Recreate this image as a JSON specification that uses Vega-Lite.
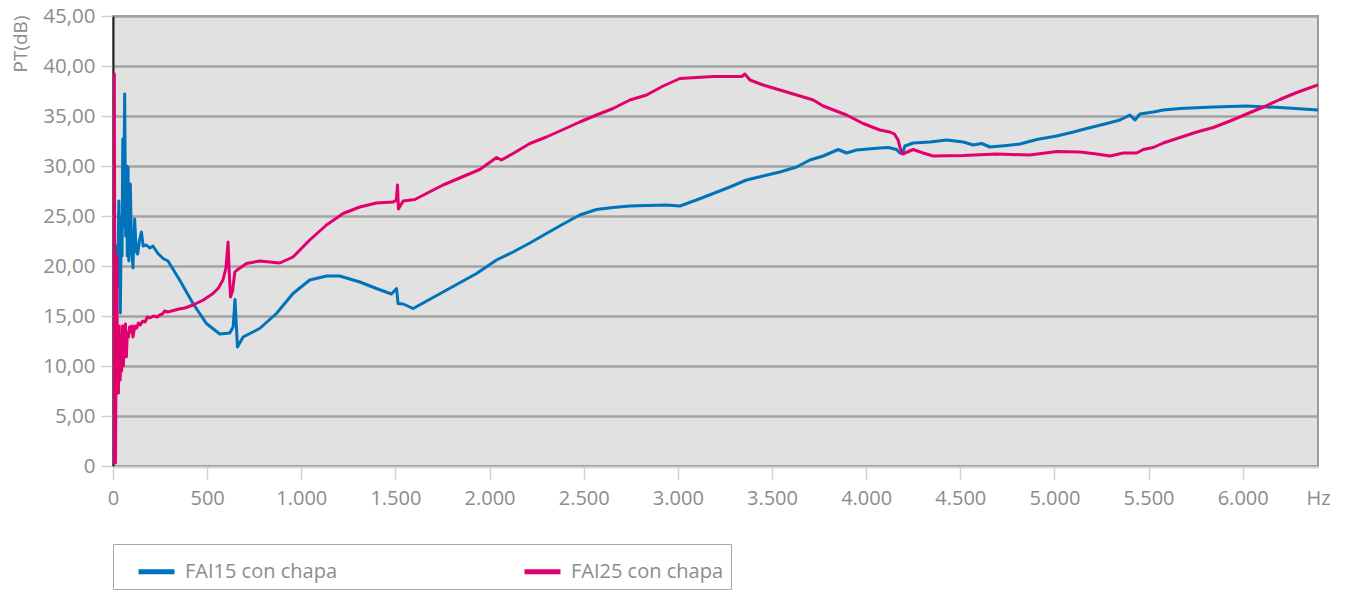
{
  "$schema": "https://vega.github.io/schema/vega-lite/v6.json",
  "width": 1205,
  "height": 450,
  "autosize": {"type": "none"},
  "padding": {"left": 113, "top": 16, "right": 32, "bottom": 125},
  "background": "#ffffff",
  "config": {
    "locale": {"number": {"decimal": ",", "thousands": ".", "grouping": [3], "currency": ["", " €"]}},
    "font": "Open Sans",
    "view": {"fill": "#e1e1e1", "stroke": "#9b9b9b", "strokeWidth": 2},
    "axis": {"labelFont": "Open Sans", "labelFontSize": 20, "labelColor": "#8c8c8c", "titleFont": "Open Sans", "titleColor": "#8c8c8c", "labelOverlap": false, "labelFontWeight": "normal", "titleFontWeight": "normal"},
    "legend": {"labelFont": "Open Sans", "labelFontWeight": "normal"}
  },
  "data": {"values": [
    {"f":0,"v":8.5,"s":"FAI15 con chapa"},
    {"f":3,"v":11.5,"s":"FAI15 con chapa"},
    {"f":8,"v":0.3,"s":"FAI15 con chapa"},
    {"f":14,"v":9,"s":"FAI15 con chapa"},
    {"f":20,"v":22,"s":"FAI15 con chapa"},
    {"f":25,"v":18,"s":"FAI15 con chapa"},
    {"f":31,"v":26.5,"s":"FAI15 con chapa"},
    {"f":35,"v":20,"s":"FAI15 con chapa"},
    {"f":39,"v":15.3,"s":"FAI15 con chapa"},
    {"f":44,"v":25,"s":"FAI15 con chapa"},
    {"f":48,"v":21,"s":"FAI15 con chapa"},
    {"f":52,"v":32.7,"s":"FAI15 con chapa"},
    {"f":56,"v":24,"s":"FAI15 con chapa"},
    {"f":62,"v":37.2,"s":"FAI15 con chapa"},
    {"f":67,"v":23,"s":"FAI15 con chapa"},
    {"f":72,"v":30,"s":"FAI15 con chapa"},
    {"f":76,"v":21,"s":"FAI15 con chapa"},
    {"f":80,"v":29.9,"s":"FAI15 con chapa"},
    {"f":84,"v":20.5,"s":"FAI15 con chapa"},
    {"f":92,"v":28.2,"s":"FAI15 con chapa"},
    {"f":98,"v":22,"s":"FAI15 con chapa"},
    {"f":106,"v":19.8,"s":"FAI15 con chapa"},
    {"f":115,"v":24.7,"s":"FAI15 con chapa"},
    {"f":123,"v":21.5,"s":"FAI15 con chapa"},
    {"f":131,"v":21.2,"s":"FAI15 con chapa"},
    {"f":140,"v":22.5,"s":"FAI15 con chapa"},
    {"f":151,"v":23.4,"s":"FAI15 con chapa"},
    {"f":160,"v":22,"s":"FAI15 con chapa"},
    {"f":177,"v":22.1,"s":"FAI15 con chapa"},
    {"f":195,"v":21.8,"s":"FAI15 con chapa"},
    {"f":212,"v":22,"s":"FAI15 con chapa"},
    {"f":239,"v":21.25,"s":"FAI15 con chapa"},
    {"f":266,"v":20.75,"s":"FAI15 con chapa"},
    {"f":292,"v":20.5,"s":"FAI15 con chapa"},
    {"f":354,"v":18.6,"s":"FAI15 con chapa"},
    {"f":425,"v":16.25,"s":"FAI15 con chapa"},
    {"f":496,"v":14.25,"s":"FAI15 con chapa"},
    {"f":567,"v":13.2,"s":"FAI15 con chapa"},
    {"f":620,"v":13.3,"s":"FAI15 con chapa"},
    {"f":638,"v":13.9,"s":"FAI15 con chapa"},
    {"f":648,"v":16.65,"s":"FAI15 con chapa"},
    {"f":661,"v":11.9,"s":"FAI15 con chapa"},
    {"f":691,"v":12.9,"s":"FAI15 con chapa"},
    {"f":779,"v":13.75,"s":"FAI15 con chapa"},
    {"f":868,"v":15.25,"s":"FAI15 con chapa"},
    {"f":956,"v":17.25,"s":"FAI15 con chapa"},
    {"f":1045,"v":18.6,"s":"FAI15 con chapa"},
    {"f":1134,"v":19.0,"s":"FAI15 con chapa"},
    {"f":1204,"v":19.0,"s":"FAI15 con chapa"},
    {"f":1311,"v":18.4,"s":"FAI15 con chapa"},
    {"f":1399,"v":17.75,"s":"FAI15 con chapa"},
    {"f":1479,"v":17.2,"s":"FAI15 con chapa"},
    {"f":1506,"v":17.75,"s":"FAI15 con chapa"},
    {"f":1514,"v":16.25,"s":"FAI15 con chapa"},
    {"f":1541,"v":16.2,"s":"FAI15 con chapa"},
    {"f":1594,"v":15.75,"s":"FAI15 con chapa"},
    {"f":1753,"v":17.4,"s":"FAI15 con chapa"},
    {"f":1931,"v":19.25,"s":"FAI15 con chapa"},
    {"f":2037,"v":20.6,"s":"FAI15 con chapa"},
    {"f":2125,"v":21.4,"s":"FAI15 con chapa"},
    {"f":2214,"v":22.3,"s":"FAI15 con chapa"},
    {"f":2302,"v":23.25,"s":"FAI15 con chapa"},
    {"f":2391,"v":24.2,"s":"FAI15 con chapa"},
    {"f":2479,"v":25.1,"s":"FAI15 con chapa"},
    {"f":2568,"v":25.65,"s":"FAI15 con chapa"},
    {"f":2656,"v":25.85,"s":"FAI15 con chapa"},
    {"f":2745,"v":26.0,"s":"FAI15 con chapa"},
    {"f":2834,"v":26.05,"s":"FAI15 con chapa"},
    {"f":2940,"v":26.1,"s":"FAI15 con chapa"},
    {"f":3011,"v":26.0,"s":"FAI15 con chapa"},
    {"f":3099,"v":26.6,"s":"FAI15 con chapa"},
    {"f":3188,"v":27.25,"s":"FAI15 con chapa"},
    {"f":3276,"v":27.9,"s":"FAI15 con chapa"},
    {"f":3365,"v":28.6,"s":"FAI15 con chapa"},
    {"f":3453,"v":29.0,"s":"FAI15 con chapa"},
    {"f":3542,"v":29.4,"s":"FAI15 con chapa"},
    {"f":3631,"v":29.9,"s":"FAI15 con chapa"},
    {"f":3701,"v":30.6,"s":"FAI15 con chapa"},
    {"f":3772,"v":31.0,"s":"FAI15 con chapa"},
    {"f":3852,"v":31.65,"s":"FAI15 con chapa"},
    {"f":3896,"v":31.3,"s":"FAI15 con chapa"},
    {"f":3949,"v":31.6,"s":"FAI15 con chapa"},
    {"f":4073,"v":31.8,"s":"FAI15 con chapa"},
    {"f":4117,"v":31.85,"s":"FAI15 con chapa"},
    {"f":4162,"v":31.65,"s":"FAI15 con chapa"},
    {"f":4179,"v":31.3,"s":"FAI15 con chapa"},
    {"f":4194,"v":31.25,"s":"FAI15 con chapa"},
    {"f":4206,"v":32.0,"s":"FAI15 con chapa"},
    {"f":4250,"v":32.3,"s":"FAI15 con chapa"},
    {"f":4339,"v":32.4,"s":"FAI15 con chapa"},
    {"f":4428,"v":32.6,"s":"FAI15 con chapa"},
    {"f":4516,"v":32.4,"s":"FAI15 con chapa"},
    {"f":4569,"v":32.1,"s":"FAI15 con chapa"},
    {"f":4614,"v":32.25,"s":"FAI15 con chapa"},
    {"f":4658,"v":31.9,"s":"FAI15 con chapa"},
    {"f":4746,"v":32.05,"s":"FAI15 con chapa"},
    {"f":4817,"v":32.2,"s":"FAI15 con chapa"},
    {"f":4906,"v":32.65,"s":"FAI15 con chapa"},
    {"f":5012,"v":33.0,"s":"FAI15 con chapa"},
    {"f":5101,"v":33.4,"s":"FAI15 con chapa"},
    {"f":5171,"v":33.75,"s":"FAI15 con chapa"},
    {"f":5278,"v":34.25,"s":"FAI15 con chapa"},
    {"f":5348,"v":34.6,"s":"FAI15 con chapa"},
    {"f":5401,"v":35.1,"s":"FAI15 con chapa"},
    {"f":5428,"v":34.6,"s":"FAI15 con chapa"},
    {"f":5454,"v":35.2,"s":"FAI15 con chapa"},
    {"f":5525,"v":35.4,"s":"FAI15 con chapa"},
    {"f":5578,"v":35.6,"s":"FAI15 con chapa"},
    {"f":5667,"v":35.75,"s":"FAI15 con chapa"},
    {"f":5844,"v":35.9,"s":"FAI15 con chapa"},
    {"f":6021,"v":36.0,"s":"FAI15 con chapa"},
    {"f":6198,"v":35.85,"s":"FAI15 con chapa"},
    {"f":6400,"v":35.6,"s":"FAI15 con chapa"},
    {"f":0,"v":0.2,"s":"FAI25 con chapa"},
    {"f":2,"v":7.8,"s":"FAI25 con chapa"},
    {"f":5,"v":20,"s":"FAI25 con chapa"},
    {"f":7,"v":39.2,"s":"FAI25 con chapa"},
    {"f":10,"v":10,"s":"FAI25 con chapa"},
    {"f":13,"v":0.3,"s":"FAI25 con chapa"},
    {"f":17,"v":12,"s":"FAI25 con chapa"},
    {"f":20,"v":21,"s":"FAI25 con chapa"},
    {"f":24,"v":9,"s":"FAI25 con chapa"},
    {"f":29,"v":7.3,"s":"FAI25 con chapa"},
    {"f":33,"v":14,"s":"FAI25 con chapa"},
    {"f":38,"v":8.6,"s":"FAI25 con chapa"},
    {"f":42,"v":12.8,"s":"FAI25 con chapa"},
    {"f":46,"v":9.5,"s":"FAI25 con chapa"},
    {"f":51,"v":14,"s":"FAI25 con chapa"},
    {"f":55,"v":10,"s":"FAI25 con chapa"},
    {"f":60,"v":13.5,"s":"FAI25 con chapa"},
    {"f":66,"v":14.2,"s":"FAI25 con chapa"},
    {"f":71,"v":10.9,"s":"FAI25 con chapa"},
    {"f":76,"v":13.3,"s":"FAI25 con chapa"},
    {"f":82,"v":12.9,"s":"FAI25 con chapa"},
    {"f":88,"v":13.9,"s":"FAI25 con chapa"},
    {"f":94,"v":13.4,"s":"FAI25 con chapa"},
    {"f":100,"v":14,"s":"FAI25 con chapa"},
    {"f":106,"v":12.9,"s":"FAI25 con chapa"},
    {"f":116,"v":14,"s":"FAI25 con chapa"},
    {"f":126,"v":13.8,"s":"FAI25 con chapa"},
    {"f":135,"v":14.3,"s":"FAI25 con chapa"},
    {"f":145,"v":14.1,"s":"FAI25 con chapa"},
    {"f":158,"v":14.5,"s":"FAI25 con chapa"},
    {"f":170,"v":14.4,"s":"FAI25 con chapa"},
    {"f":183,"v":14.9,"s":"FAI25 con chapa"},
    {"f":195,"v":14.8,"s":"FAI25 con chapa"},
    {"f":215,"v":15.0,"s":"FAI25 con chapa"},
    {"f":235,"v":14.9,"s":"FAI25 con chapa"},
    {"f":248,"v":15.1,"s":"FAI25 con chapa"},
    {"f":262,"v":15.2,"s":"FAI25 con chapa"},
    {"f":275,"v":15.5,"s":"FAI25 con chapa"},
    {"f":290,"v":15.4,"s":"FAI25 con chapa"},
    {"f":311,"v":15.5,"s":"FAI25 con chapa"},
    {"f":350,"v":15.7,"s":"FAI25 con chapa"},
    {"f":381,"v":15.8,"s":"FAI25 con chapa"},
    {"f":425,"v":16.1,"s":"FAI25 con chapa"},
    {"f":480,"v":16.6,"s":"FAI25 con chapa"},
    {"f":531,"v":17.25,"s":"FAI25 con chapa"},
    {"f":560,"v":17.8,"s":"FAI25 con chapa"},
    {"f":584,"v":18.6,"s":"FAI25 con chapa"},
    {"f":600,"v":19.8,"s":"FAI25 con chapa"},
    {"f":611,"v":22.4,"s":"FAI25 con chapa"},
    {"f":617,"v":19.5,"s":"FAI25 con chapa"},
    {"f":624,"v":16.9,"s":"FAI25 con chapa"},
    {"f":635,"v":17.5,"s":"FAI25 con chapa"},
    {"f":647,"v":19.4,"s":"FAI25 con chapa"},
    {"f":659,"v":19.6,"s":"FAI25 con chapa"},
    {"f":709,"v":20.25,"s":"FAI25 con chapa"},
    {"f":779,"v":20.5,"s":"FAI25 con chapa"},
    {"f":886,"v":20.3,"s":"FAI25 con chapa"},
    {"f":956,"v":20.9,"s":"FAI25 con chapa"},
    {"f":1045,"v":22.6,"s":"FAI25 con chapa"},
    {"f":1134,"v":24.1,"s":"FAI25 con chapa"},
    {"f":1222,"v":25.25,"s":"FAI25 con chapa"},
    {"f":1311,"v":25.9,"s":"FAI25 con chapa"},
    {"f":1399,"v":26.3,"s":"FAI25 con chapa"},
    {"f":1488,"v":26.4,"s":"FAI25 con chapa"},
    {"f":1505,"v":26.6,"s":"FAI25 con chapa"},
    {"f":1511,"v":28.1,"s":"FAI25 con chapa"},
    {"f":1516,"v":25.7,"s":"FAI25 con chapa"},
    {"f":1541,"v":26.5,"s":"FAI25 con chapa"},
    {"f":1603,"v":26.65,"s":"FAI25 con chapa"},
    {"f":1753,"v":28.1,"s":"FAI25 con chapa"},
    {"f":1948,"v":29.65,"s":"FAI25 con chapa"},
    {"f":2019,"v":30.6,"s":"FAI25 con chapa"},
    {"f":2037,"v":30.85,"s":"FAI25 con chapa"},
    {"f":2063,"v":30.6,"s":"FAI25 con chapa"},
    {"f":2125,"v":31.25,"s":"FAI25 con chapa"},
    {"f":2214,"v":32.25,"s":"FAI25 con chapa"},
    {"f":2302,"v":32.9,"s":"FAI25 con chapa"},
    {"f":2391,"v":33.65,"s":"FAI25 con chapa"},
    {"f":2479,"v":34.4,"s":"FAI25 con chapa"},
    {"f":2568,"v":35.1,"s":"FAI25 con chapa"},
    {"f":2656,"v":35.75,"s":"FAI25 con chapa"},
    {"f":2745,"v":36.6,"s":"FAI25 con chapa"},
    {"f":2834,"v":37.1,"s":"FAI25 con chapa"},
    {"f":2922,"v":38.0,"s":"FAI25 con chapa"},
    {"f":3011,"v":38.75,"s":"FAI25 con chapa"},
    {"f":3099,"v":38.85,"s":"FAI25 con chapa"},
    {"f":3188,"v":38.95,"s":"FAI25 con chapa"},
    {"f":3276,"v":38.95,"s":"FAI25 con chapa"},
    {"f":3340,"v":38.95,"s":"FAI25 con chapa"},
    {"f":3356,"v":39.2,"s":"FAI25 con chapa"},
    {"f":3383,"v":38.6,"s":"FAI25 con chapa"},
    {"f":3453,"v":38.1,"s":"FAI25 con chapa"},
    {"f":3542,"v":37.6,"s":"FAI25 con chapa"},
    {"f":3631,"v":37.1,"s":"FAI25 con chapa"},
    {"f":3719,"v":36.6,"s":"FAI25 con chapa"},
    {"f":3772,"v":36.0,"s":"FAI25 con chapa"},
    {"f":3896,"v":35.1,"s":"FAI25 con chapa"},
    {"f":3984,"v":34.25,"s":"FAI25 con chapa"},
    {"f":4073,"v":33.6,"s":"FAI25 con chapa"},
    {"f":4126,"v":33.4,"s":"FAI25 con chapa"},
    {"f":4150,"v":33.2,"s":"FAI25 con chapa"},
    {"f":4170,"v":32.6,"s":"FAI25 con chapa"},
    {"f":4179,"v":31.9,"s":"FAI25 con chapa"},
    {"f":4194,"v":31.2,"s":"FAI25 con chapa"},
    {"f":4250,"v":31.65,"s":"FAI25 con chapa"},
    {"f":4303,"v":31.3,"s":"FAI25 con chapa"},
    {"f":4356,"v":31.0,"s":"FAI25 con chapa"},
    {"f":4516,"v":31.05,"s":"FAI25 con chapa"},
    {"f":4693,"v":31.2,"s":"FAI25 con chapa"},
    {"f":4870,"v":31.1,"s":"FAI25 con chapa"},
    {"f":5012,"v":31.45,"s":"FAI25 con chapa"},
    {"f":5136,"v":31.4,"s":"FAI25 con chapa"},
    {"f":5224,"v":31.2,"s":"FAI25 con chapa"},
    {"f":5295,"v":31.0,"s":"FAI25 con chapa"},
    {"f":5366,"v":31.3,"s":"FAI25 con chapa"},
    {"f":5437,"v":31.3,"s":"FAI25 con chapa"},
    {"f":5472,"v":31.65,"s":"FAI25 con chapa"},
    {"f":5525,"v":31.85,"s":"FAI25 con chapa"},
    {"f":5578,"v":32.3,"s":"FAI25 con chapa"},
    {"f":5667,"v":32.85,"s":"FAI25 con chapa"},
    {"f":5756,"v":33.4,"s":"FAI25 con chapa"},
    {"f":5844,"v":33.85,"s":"FAI25 con chapa"},
    {"f":5933,"v":34.5,"s":"FAI25 con chapa"},
    {"f":6021,"v":35.2,"s":"FAI25 con chapa"},
    {"f":6110,"v":35.9,"s":"FAI25 con chapa"},
    {"f":6198,"v":36.65,"s":"FAI25 con chapa"},
    {"f":6287,"v":37.35,"s":"FAI25 con chapa"},
    {"f":6400,"v":38.1,"s":"FAI25 con chapa"}
  ]},
  "mark": {"type": "line", "strokeWidth": 3, "clip": true, "strokeJoin": "round"},
  "encoding": {
    "x": {
      "field": "f", "type": "quantitative",
      "scale": {"domain": [0, 6400], "nice": false, "zero": true},
      "axis": {
        "title": null,
        "values": [0, 500, 1000, 1500, 2000, 2500, 3000, 3500, 4000, 4500, 5000, 5500, 6000, 6400],
        "format": ",d",
        "labelExpr": "datum.value === 6400 ? 'Hz' : datum.label",
        "labelFlush": false,
        "grid": false,
        "domain": true,
        "domainColor": "#dadada",
        "domainWidth": 2,
        "offset": 1,
        "tickColor": {"condition": {"test": "datum.value === 6400", "value": "transparent"}, "value": "#d0d0d0"},
        "tickSize": 12,
        "tickWidth": 1.5,
        "labelPadding": 9
      }
    },
    "y": {
      "field": "v", "type": "quantitative",
      "scale": {"domain": [0, 45], "nice": false},
      "axis": {
        "title": "PT(dB)",
        "titleFontSize": 19,
        "titleAngle": -90,
        "titleX": -93,
        "titleY": -1,
        "titleAlign": "right",
        "titleBaseline": "middle",
        "values": [0, 5, 10, 15, 20, 25, 30, 35, 40, 45],
        "format": ".2f",
        "labelExpr": "datum.value === 0 ? '0' : datum.label",
        "labelFontSize": 20.5,
        "grid": true,
        "gridColor": "#a3a3a3",
        "gridWidth": 2.5,
        "gridOpacity": 1,
        "domain": true,
        "domainColor": "#222222",
        "domainWidth": 2,
        "tickColor": "#d0d0d0",
        "tickSize": 12,
        "tickWidth": 1.5,
        "labelPadding": 6
      }
    },
    "color": {
      "field": "s", "type": "nominal",
      "scale": {"domain": ["FAI15 con chapa", "FAI25 con chapa"], "range": ["#0073ba", "#e2006d"]},
      "legend": {
        "title": null,
        "orient": "none",
        "legendX": 0,
        "legendY": 528,
        "direction": "horizontal",
        "strokeColor": "#a8a8a8",
        "fillColor": "#ffffff",
        "padding": 7,
        "symbolType": "stroke",
        "symbolStrokeWidth": 5,
        "symbolSize": 1296,
        "symbolOffset": 16,
        "labelOffset": 8,
        "labelFontSize": 20,
        "labelColor": "#8c8c8c",
        "columnPadding": 168
      }
    }
  }
}
